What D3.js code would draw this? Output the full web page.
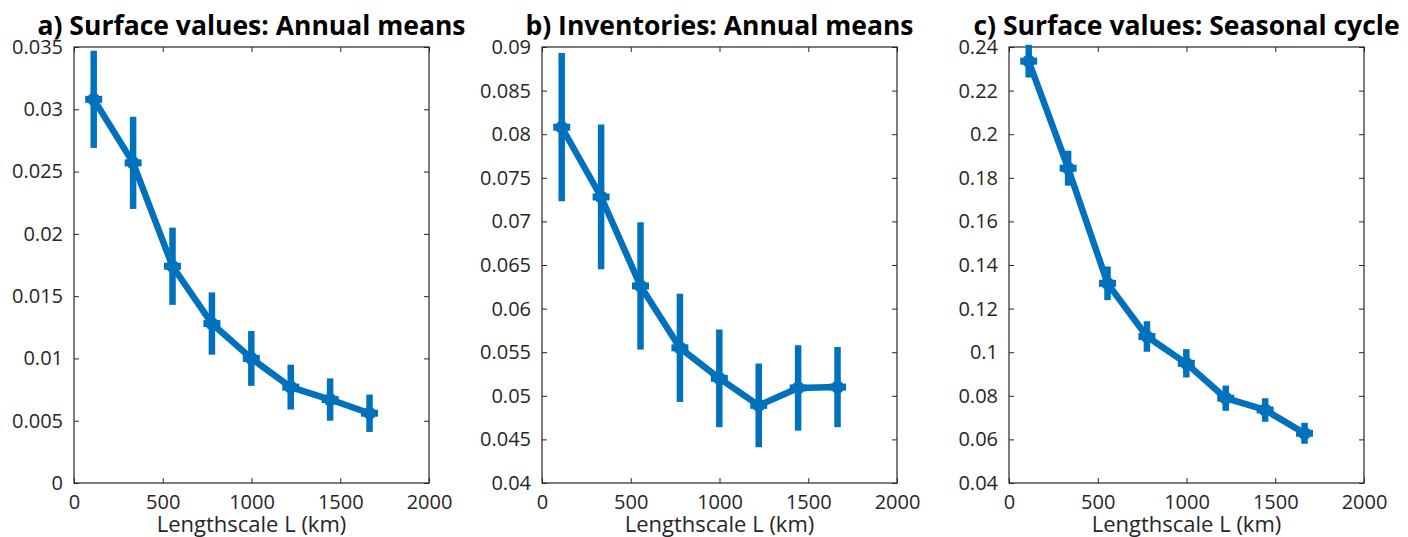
<!DOCTYPE html>
<html>
<head>
<meta charset="utf-8">
<script src="https://cdn.jsdelivr.net/npm/d3@7"></script>
<style>
  body { margin: 0; background: #fff; }
  svg { display: block; font-family: "Open Sans", sans-serif; }
</style>
</head>
<body>
<div id="container"></div>
<script>
// lengthscales (km) shared by all panels
let lengthscale = [111, 333, 555, 777, 999, 1221, 1443, 1665];

// a) surface values, annual means
let surfAnnual    = [0.0308, 0.0257, 0.0174, 0.0128, 0.0100, 0.0077, 0.0067, 0.0056];
let surfAnnualErr = [0.0039, 0.0037, 0.0031, 0.0025, 0.0022, 0.0018, 0.0017, 0.0015];

// b) inventories, annual means
let invAnnual    = [0.0808, 0.0728, 0.0626, 0.0555, 0.0520, 0.0489, 0.0509, 0.0510];
let invAnnualErr = [0.0085, 0.0083, 0.0073, 0.0062, 0.0056, 0.0048, 0.0049, 0.0046];

// c) surface values, seasonal cycle
let surfSeasonal    = [0.2335, 0.1844, 0.1316, 0.1072, 0.0949, 0.0789, 0.0735, 0.0628];
let surfSeasonalErr = [0.0075, 0.0080, 0.0077, 0.0070, 0.0065, 0.0058, 0.0054, 0.0048];

let xTicks = [0, 500, 1000, 1500, 2000];
let yTicksA = [0, 0.005, 0.01, 0.015, 0.02, 0.025, 0.03, 0.035];
let yTicksB = [0.04, 0.045, 0.05, 0.055, 0.06, 0.065, 0.07, 0.075, 0.08, 0.085, 0.09];
let yTicksC = [0.04, 0.06, 0.08, 0.1, 0.12, 0.14, 0.16, 0.18, 0.2, 0.22, 0.24];

let titles = ["a) Surface values: Annual means", "b) Inventories: Annual means", "c) Surface values: Seasonal cycle"];
let xLabel = "Lengthscale L (km)";

let w = 1408;
let h = 537;
let blue = "#0072BD";
let axisColor = "#262626";

let svg = d3.select("#container")
  .append("svg")
  .attr("width", w)
  .attr("height", h);

let panels = [
  { left: 74,   values: surfAnnual,   errs: surfAnnualErr,   ticks: yTicksA, title: titles[0] },
  { left: 542,  values: invAnnual,    errs: invAnnualErr,    ticks: yTicksB, title: titles[1] },
  { left: 1009, values: surfSeasonal, errs: surfSeasonalErr, ticks: yTicksC, title: titles[2] }
];

let plotW = 355;
let plotTop = 47;
let plotBottom = 483;

panels.forEach(function (p) {
  let xScale = d3.scaleLinear()
    .domain([0, 2000])
    .range([p.left, p.left + plotW]);

  let yScale = d3.scaleLinear()
    .domain([p.ticks[0], p.ticks[p.ticks.length - 1]])
    .range([plotBottom, plotTop]);

  let g = svg.append("g");

  // box
  g.append("rect")
    .attr("x", p.left)
    .attr("y", plotTop)
    .attr("width", plotW)
    .attr("height", plotBottom - plotTop)
    .attr("fill", "none")
    .attr("stroke", axisColor)
    .attr("stroke-width", 1.2);

  // axes with inward ticks (labels on bottom/left, mirrored ticks on top/right)
  let fmt = d => String(d);
  let xAxis = g.append("g")
    .attr("transform", "translate(0," + plotBottom + ")")
    .call(d3.axisBottom(xScale).tickValues(xTicks).tickFormat(fmt).tickSizeInner(-5).tickSizeOuter(0).tickPadding(12));
  let xTop = g.append("g")
    .attr("transform", "translate(0," + plotTop + ")")
    .call(d3.axisTop(xScale).tickValues(xTicks).tickFormat("").tickSizeInner(-5).tickSizeOuter(0));
  let yAxis = g.append("g")
    .attr("transform", "translate(" + p.left + ",0)")
    .call(d3.axisLeft(yScale).tickValues(p.ticks).tickFormat(fmt).tickSizeInner(-5).tickSizeOuter(0).tickPadding(11));
  let yRight = g.append("g")
    .attr("transform", "translate(" + (p.left + plotW) + ",0)")
    .call(d3.axisRight(yScale).tickValues(p.ticks).tickFormat("").tickSizeInner(-5).tickSizeOuter(0));

  [xAxis, xTop, yAxis, yRight].forEach(function (a) {
    a.select(".domain").remove();
    a.selectAll("line").attr("stroke", axisColor);
    a.selectAll("text")
      .attr("fill", axisColor)
      .style("font-size", "20px")
      .style("font-family", "'Open Sans', sans-serif");
  });

  let pts = lengthscale.map((x, i) => ({ x: x, y: p.values[i], e: p.errs[i] }));

  // error bars
  g.selectAll(".err")
    .data(pts)
    .enter()
    .append("line")
    .attr("x1", d => xScale(d.x))
    .attr("x2", d => xScale(d.x))
    .attr("y1", d => yScale(d.y - d.e))
    .attr("y2", d => yScale(d.y + d.e))
    .attr("stroke", blue)
    .attr("stroke-width", 6.5);

  // connecting line
  let line = d3.line()
    .x(d => xScale(d.x))
    .y(d => yScale(d.y));

  g.append("path")
    .datum(pts)
    .attr("fill", "none")
    .attr("stroke", blue)
    .attr("stroke-width", 6.5)
    .attr("stroke-linejoin", "round")
    .attr("d", line);

  // markers
  g.selectAll(".mk")
    .data(pts)
    .enter()
    .append("circle")
    .attr("cx", d => xScale(d.x))
    .attr("cy", d => yScale(d.y))
    .attr("r", 6.5)
    .attr("fill", blue);

  g.selectAll(".mkh")
    .data(pts)
    .enter()
    .append("line")
    .attr("x1", d => xScale(d.x) - 8.5)
    .attr("x2", d => xScale(d.x) + 8.5)
    .attr("y1", d => yScale(d.y))
    .attr("y2", d => yScale(d.y))
    .attr("stroke", blue)
    .attr("stroke-width", 7);

  // title
  g.append("text")
    .attr("x", p.left + plotW / 2)
    .attr("y", 35)
    .attr("text-anchor", "middle")
    .style("font-size", "26.5px")
    .style("font-weight", "bold")
    .attr("fill", "#000")
    .text(p.title);

  // x label
  g.append("text")
    .attr("x", p.left + plotW / 2)
    .attr("y", 532)
    .attr("text-anchor", "middle")
    .style("font-size", "22px")
    .attr("fill", axisColor)
    .text(xLabel);
});
</script>
</body>
</html>
